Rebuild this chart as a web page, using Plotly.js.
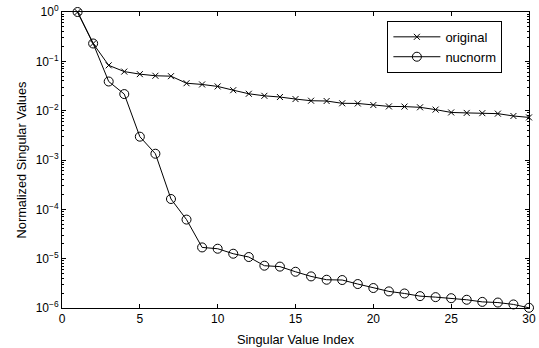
<!DOCTYPE html>
<html>
<head>
<meta charset="utf-8">
<script src="https://cdn.plot.ly/plotly-3.0.1.min.js"></script>
<style>html,body{margin:0;padding:0;background:#fff;}#chart{width:539px;height:348px;}</style>
</head>
<body>
<div id="chart"></div>
<script>
const index = [1,2,3,4,5,6,7,8,9,10,11,12,13,14,15,16,17,18,19,20,21,22,23,24,25,26,27,28,29,30];
const original = [1.0,0.23,0.083,0.062,0.055,0.051,0.050,0.036,0.034,0.031,0.026,0.022,0.020,0.0189,0.0172,0.0159,0.0157,0.0141,0.0140,0.0130,0.0122,0.0121,0.0117,0.0105,0.0092,0.0090,0.0089,0.0087,0.0078,0.0073];
const nucnorm = [1.0,0.23,0.039,0.0217,0.00297,0.00134,1.62e-4,6.2e-5,1.69e-5,1.59e-5,1.26e-5,1.08e-5,7.2e-6,6.9e-6,5.43e-6,4.37e-6,3.74e-6,3.69e-6,3.06e-6,2.54e-6,2.17e-6,1.97e-6,1.74e-6,1.66e-6,1.58e-6,1.47e-6,1.33e-6,1.29e-6,1.18e-6,1.01e-6];
const yTickVals = [1e-6,1e-5,1e-4,1e-3,1e-2,1e-1,1];
const yTickText = ['10<sup>−6</sup>','10<sup>−5</sup>','10<sup>−4</sup>','10<sup>−3</sup>','10<sup>−2</sup>','10<sup>−1</sup>','10<sup>0</sup>'];
const xTickVals = [0,5,10,15,20,25,30];

const family = 'Liberation Sans, Arial, Helvetica, sans-serif';
const tickFont = {family: family, size: 12, color: '#000'};
const titleFont = {family: family, size: 12.8, color: '#000'};
const legendFont = {family: family, size: 13, color: '#000'};

const traces = [
  {x: index, y: original, name: 'original', type: 'scatter', mode: 'lines+markers',
   line: {color: '#000', width: 1},
   marker: {symbol: 'x-thin-open', size: 6, color: '#000', line: {color: '#000', width: 1}},
   cliponaxis: false},
  {x: index, y: nucnorm, name: 'nucnorm', type: 'scatter', mode: 'lines+markers',
   line: {color: '#000', width: 1},
   marker: {symbol: 'circle-open', size: 9, color: '#000', line: {color: '#000', width: 1}},
   cliponaxis: false}
];

const layout = {
  width: 539, height: 348,
  margin: {l: 62, r: 10, t: 12, b: 40},
  paper_bgcolor: '#fff', plot_bgcolor: '#fff',
  font: tickFont,
  showlegend: true,
  legend: {x: 0.943, xanchor: 'right', y: 0.97, yanchor: 'top',
           bgcolor: '#fff', bordercolor: '#000', borderwidth: 1,
           font: legendFont, tracegroupgap: 0, itemwidth: 47},
  xaxis: {range: [0, 30], tickvals: xTickVals, ticks: 'inside', ticklen: 4,
          tickcolor: '#000', showline: true, linecolor: '#000', linewidth: 1,
          mirror: 'ticks', showgrid: false, zeroline: false,
          tickfont: tickFont,
          title: {text: 'Singular Value Index', font: titleFont, standoff: 9}},
  yaxis: {type: 'log', range: [-6, 0], tickvals: yTickVals, ticktext: yTickText,
          ticks: 'inside', ticklen: 4, tickcolor: '#000',
          showline: true, linecolor: '#000', linewidth: 1, mirror: 'ticks',
          showgrid: false, zeroline: false, tickfont: tickFont,
          minor: {ticks: 'inside', ticklen: 2, tickcolor: '#000', dtick: 'D1', showgrid: false},
          title: {text: 'Normalized Singular Values', font: titleFont, standoff: 6}}
};

Plotly.newPlot('chart', traces, layout, {displayModeBar: false, staticPlot: true});
</script>
</body>
</html>
